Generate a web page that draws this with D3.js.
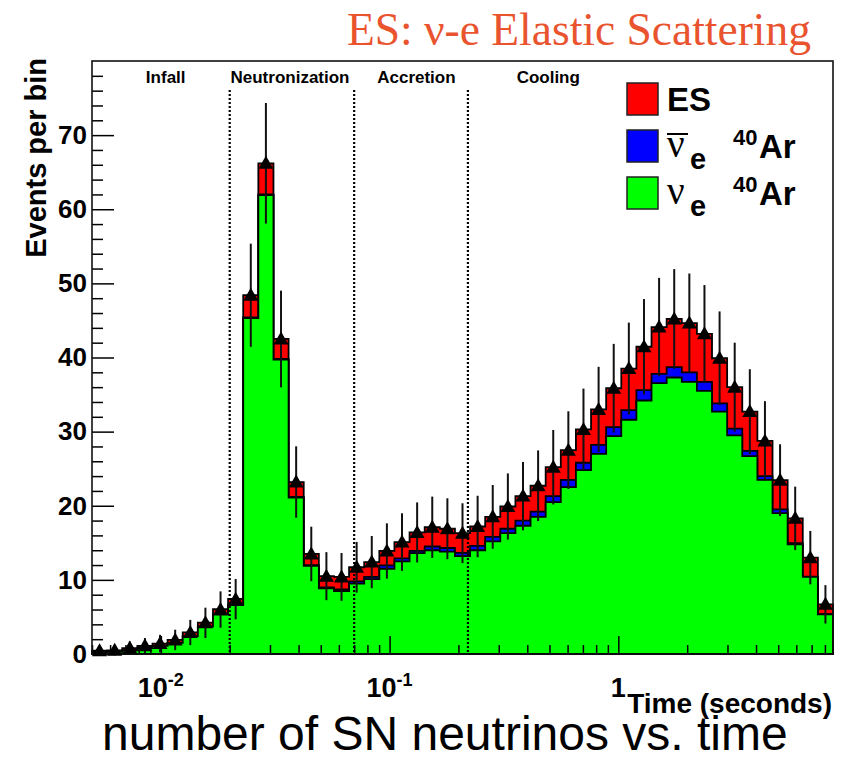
<!DOCTYPE html>
<html>
<head>
<meta charset="utf-8">
<script src="https://cdn.jsdelivr.net/npm/d3@7"></script>
<style>
  body { margin: 0; background: #fff; }
  svg { display: block; }
</style>
</head>
<body>
<script>
//////////////////////////////////////////////////////////////////////////////
// Data
//////////////////////////////////////////////////////////////////////////////
// log-spaced time bins (seconds)
let tMin = 0.005
let tMax = 8.68
let nBins = 49

// stacked components, events per bin, left to right
let nueAr = [0.25, 0.3, 0.5, 0.8, 1.1, 1.5, 2.4, 3.7, 5.3, 6.6,
  45.3, 61.9, 39.7, 21.1, 11.9, 8.85, 8.5, 9.5, 10.1, 11.5,
  12.5, 13.6, 14.0, 13.8, 13.2, 14.0, 15.2, 16.3, 17.3, 18.5,
  20.5, 22.5, 24.8, 27.0, 29.4, 31.6, 34.2, 36.55, 37.3, 36.7,
  35.5, 32.7, 29.5, 26.7, 23.5, 19.0, 14.8, 10.4, 5.35]
let nuebarAr = [0, 0, 0, 0, 0, 0, 0.02, 0.03, 0.04, 0.05,
  0.1, 0.1, 0.1, 0.1, 0.1, 0.15, 0.2, 0.3, 0.3, 0.45,
  0.4, 0.3, 0.5, 0.5, 0.45, 0.6, 0.6, 0.6, 0.7, 0.7,
  0.8, 1.0, 1.0, 1.2, 1.2, 1.3, 1.4, 1.25, 1.4, 1.3,
  1.2, 1.1, 0.9, 0.7, 0.5, 0.5, 0.15, 0.05, 0.03]
let esVals = [0.2, 0.2, 0.3, 0.3, 0.3, 0.4, 0.5, 0.5, 0.7, 0.8,
  3.0, 4.2, 2.7, 2.0, 1.5, 1.5, 1.7, 1.9, 2.0, 1.95,
  2.2, 2.5, 2.6, 2.6, 2.65, 2.6, 2.7, 3.0, 3.3, 3.5,
  3.9, 4.0, 4.5, 4.8, 5.25, 5.6, 5.85, 6.3, 6.5, 6.65,
  6.5, 6.1, 5.6, 5.3, 4.75, 3.95, 3.35, 2.55, 1.32]
// data points (triangles), error = sqrt(N)
let observed = [0.45, 0.5, 0.8, 1.1, 1.4, 1.9, 2.9, 4.2, 6.0, 7.4,
  48.4, 66.2, 42.5, 23.2, 13.5, 10.5, 10.4, 11.7, 12.4, 13.9,
  15.1, 16.4, 17.1, 16.9, 16.3, 17.2, 18.5, 19.9, 21.3, 22.7,
  25.2, 27.5, 30.3, 33.0, 35.85, 38.5, 41.45, 44.1, 45.2, 44.65,
  43.2, 39.9, 36.0, 32.7, 28.75, 23.45, 18.3, 13.0, 6.7]

// phases of the burst
let phaseNames = ['Infall', 'Neutronization', 'Accretion', 'Cooling']
let phaseLabelTimes = [0.0105, 0.0367, 0.131, 0.494]
let phaseBounds = [0.02, 0.07, 0.22]

// axis ticks
let yMajor = [0, 10, 20, 30, 40, 50, 60, 70]
let yMinor = d3.range(0, 80, 2).filter(v => v % 10 !== 0)
let xMajor = [0.01, 0.1, 1]
let xMajorBase = ['10', '10', '1']
let xMajorExp = ['-2', '-1', '']
let xMinor = [0.005, 0.006, 0.007, 0.008, 0.009,
  0.02, 0.03, 0.04, 0.05, 0.06, 0.07, 0.08, 0.09,
  0.2, 0.3, 0.4, 0.5, 0.6, 0.7, 0.8, 0.9,
  2, 3, 4, 5, 6, 7, 8]

//////////////////////////////////////////////////////////////////////////////
// Setup
//////////////////////////////////////////////////////////////////////////////
let width = 845
let height = 759
let plotLeft = 92, plotRight = 833, plotTop = 61, plotBottom = 654
let bold = "'Liberation Sans', Arial, Helvetica, sans-serif"
let serif = "'Liberation Serif', 'Times New Roman', serif"

let svg = d3.select('body').append('svg')
  .attr('width', width)
  .attr('height', height)

let x = d3.scaleLog().domain([tMin, tMax]).range([plotLeft, plotRight])
let y = d3.scaleLinear().domain([0, 80]).range([plotBottom, plotTop])

// bin edges equally spaced in log(t)
let logLo = Math.log10(tMin), logHi = Math.log10(tMax)
let edges = d3.range(nBins + 1).map(i => Math.pow(10, logLo + (i * (logHi - logLo)) / nBins))
let centers = d3.range(nBins).map(i => Math.sqrt(edges[i] * edges[i + 1]))

// cumulative stack levels
let cumGreen = nueAr.slice()
let cumBlue = nueAr.map((v, i) => v + nuebarAr[i])
let cumTotal = cumBlue.map((v, i) => v + esVals[i])

function stepPath (vals) {
  let pts = [[x(edges[0]), y(0)]]
  vals.forEach((v, i) => {
    pts.push([x(edges[i]), y(v)])
    pts.push([x(edges[i + 1]), y(v)])
  })
  pts.push([x(edges[nBins]), y(0)])
  return d3.line()(pts) + 'Z'
}

//////////////////////////////////////////////////////////////////////////////
// Stacked histogram
//////////////////////////////////////////////////////////////////////////////
let layers = [
  { vals: cumTotal, color: '#ff0000' },
  { vals: cumBlue, color: '#0000ff' },
  { vals: cumGreen, color: '#00ff00' }
]
svg.append('g').selectAll('path')
  .data(layers)
  .join('path')
  .attr('d', d => stepPath(d.vals))
  .attr('fill', d => d.color)
  .attr('stroke', '#000')
  .attr('stroke-width', 1.8)
  .attr('stroke-linejoin', 'miter')

// phase boundaries
svg.append('g').selectAll('line')
  .data(phaseBounds)
  .join('line')
  .attr('x1', d => x(d)).attr('x2', d => x(d))
  .attr('y1', 90).attr('y2', plotBottom)
  .attr('stroke', '#000')
  .attr('stroke-width', 2.2)
  .attr('stroke-dasharray', '2,2')

// phase names
svg.append('g').selectAll('text')
  .data(phaseNames)
  .join('text')
  .attr('x', (d, i) => x(phaseLabelTimes[i]))
  .attr('y', 83)
  .attr('text-anchor', 'middle')
  .style('font-family', bold)
  .style('font-weight', 'bold')
  .style('font-size', '17px')
  .text(d => d)

//////////////////////////////////////////////////////////////////////////////
// Axes
//////////////////////////////////////////////////////////////////////////////
let yAxisMajor = svg.append('g')
  .attr('transform', `translate(${plotLeft},0)`)
  .call(d3.axisLeft(y).tickValues(yMajor).tickSize(-22).tickPadding(5).tickFormat(d3.format('d')))
yAxisMajor.select('.domain').remove()
yAxisMajor.selectAll('.tick line').attr('stroke', '#000').attr('stroke-width', 1.5)
yAxisMajor.selectAll('.tick text')
  .style('font-family', bold)
  .style('font-weight', 'bold')
  .style('font-size', '26px')
  .attr('fill', '#000')

let yAxisMinor = svg.append('g')
  .attr('transform', `translate(${plotLeft},0)`)
  .call(d3.axisLeft(y).tickValues(yMinor).tickSize(-11).tickFormat(''))
yAxisMinor.select('.domain').remove()
yAxisMinor.selectAll('.tick line').attr('stroke', '#000').attr('stroke-width', 1.5)

let xAxisMajor = svg.append('g')
  .attr('transform', `translate(0,${plotBottom})`)
  .call(d3.axisBottom(x).tickValues(xMajor).tickSize(-18).tickFormat(''))
xAxisMajor.select('.domain').remove()
xAxisMajor.selectAll('.tick line').attr('stroke', '#000').attr('stroke-width', 1.5)

let xAxisMinor = svg.append('g')
  .attr('transform', `translate(0,${plotBottom})`)
  .call(d3.axisBottom(x).tickValues(xMinor).tickSize(-9).tickFormat(''))
xAxisMinor.select('.domain').remove()
xAxisMinor.selectAll('.tick line').attr('stroke', '#000').attr('stroke-width', 1.5)

// x tick labels with exponents
let xLabels = svg.append('g').selectAll('text')
  .data(xMajor)
  .join('text')
  .attr('x', d => x(d))
  .attr('y', 697)
  .attr('text-anchor', 'middle')
  .style('font-family', bold)
  .style('font-weight', 'bold')
  .style('font-size', '27px')
xLabels.append('tspan').text((d, i) => xMajorBase[i])
xLabels.append('tspan')
  .attr('dy', -11)
  .style('font-size', '18px')
  .text((d, i) => xMajorExp[i])

// frame
svg.append('rect')
  .attr('x', plotLeft).attr('y', plotTop)
  .attr('width', plotRight - plotLeft).attr('height', plotBottom - plotTop)
  .attr('fill', 'none')
  .attr('stroke', '#111')
  .attr('stroke-width', 1.6)

// axis titles
svg.append('text')
  .attr('x', 832).attr('y', 713)
  .attr('text-anchor', 'end')
  .style('font-family', bold)
  .style('font-weight', 'bold')
  .style('font-size', '28px')
  .text('Time (seconds)')

svg.append('text')
  .attr('transform', 'translate(46,58) rotate(-90)')
  .attr('text-anchor', 'end')
  .style('font-family', bold)
  .style('font-weight', 'bold')
  .style('font-size', '29px')
  .text('Events per bin')

//////////////////////////////////////////////////////////////////////////////
// Data points with error bars
//////////////////////////////////////////////////////////////////////////////
let pts = svg.append('g').selectAll('g')
  .data(observed)
  .join('g')
  .attr('transform', (d, i) => `translate(${x(centers[i])},0)`)
pts.append('line')
  .attr('y1', d => y(d - Math.sqrt(d)))
  .attr('y2', d => y(d + Math.sqrt(d)))
  .attr('stroke', '#111')
  .attr('stroke-width', 2)
pts.append('path')
  .attr('transform', d => `translate(0,${y(d)})`)
  .attr('d', 'M0,-7.5L7.5,5.5L-7.5,5.5Z')
  .attr('fill', '#000')

//////////////////////////////////////////////////////////////////////////////
// Legend
//////////////////////////////////////////////////////////////////////////////
let legendColors = ['#ff0000', '#0000ff', '#00ff00']
let legendRowY = [83, 130, 177]
let legend = svg.append('g')
legend.selectAll('rect')
  .data(legendColors)
  .join('rect')
  .attr('x', 627)
  .attr('y', (d, i) => legendRowY[i])
  .attr('width', 31)
  .attr('height', 32)
  .attr('fill', d => d)
  .attr('stroke', '#222')
  .attr('stroke-width', 1.5)

legend.append('text')
  .attr('x', 667).attr('y', legendRowY[0] + 28)
  .style('font-family', bold)
  .style('font-weight', 'bold')
  .style('font-size', '33px')
  .text('ES')

// rows 2 and 3: (anti)neutrino on argon
;[1, 2].forEach(i => {
  let y0 = legendRowY[i]
  legend.append('text')
    .attr('x', 667).attr('y', y0 + 27)
    .style('font-family', serif)
    .style('font-size', '39px')
    .text('ν')
  legend.append('text')
    .attr('x', 690).attr('y', y0 + 39)
    .style('font-family', bold)
    .style('font-weight', 'bold')
    .style('font-size', '29px')
    .text('e')
  legend.append('text')
    .attr('x', 733).attr('y', y0 + 15)
    .style('font-family', bold)
    .style('font-weight', 'bold')
    .style('font-size', '22px')
    .text('40')
  legend.append('text')
    .attr('x', 759).attr('y', y0 + 28)
    .style('font-family', bold)
    .style('font-weight', 'bold')
    .style('font-size', '33px')
    .text('Ar')
})
// bar over the anti-neutrino
legend.append('line')
  .attr('x1', 667).attr('x2', 688)
  .attr('y1', legendRowY[1] + 4).attr('y2', legendRowY[1] + 4)
  .attr('stroke', '#000')
  .attr('stroke-width', 2)

//////////////////////////////////////////////////////////////////////////////
// Titles
//////////////////////////////////////////////////////////////////////////////
svg.append('text')
  .attr('x', 811).attr('y', 45)
  .attr('text-anchor', 'end')
  .style('font-family', serif)
  .style('font-size', '45.5px')
  .attr('fill', '#e9542f')
  .text('ES: ν-e Elastic Scattering')

svg.append('text')
  .attr('x', 102).attr('y', 750)
  .style('font-family', "'Liberation Sans', Arial, Helvetica, sans-serif")
  .style('font-size', '48px')
  .attr('fill', '#000')
  .text('number of SN neutrinos vs. time')
</script>
</body>
</html>
